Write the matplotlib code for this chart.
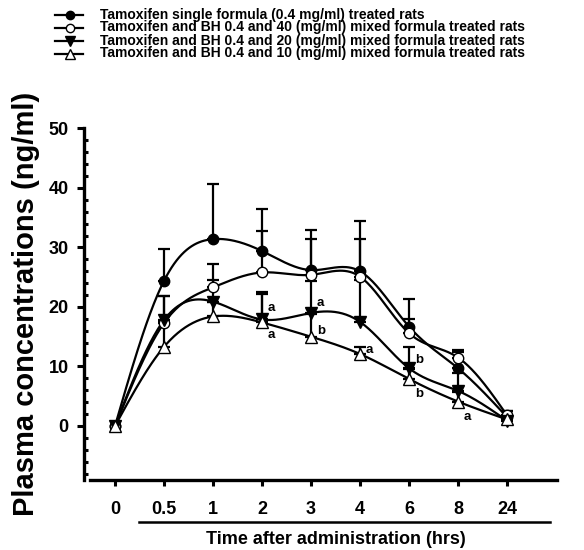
import numpy as np
import matplotlib.pyplot as plt
import matplotlib.transforms as mtransforms
from matplotlib.lines import Line2D
from matplotlib.ticker import FixedLocator

plt.rcParams['font.family'] = ['Liberation Sans', 'DejaVu Sans']
plt.rcParams['font.weight'] = 'bold'

# sampling times (shown as evenly spaced categories)
times = ['0', '0.5', '1', '2', '3', '4', '6', '8', '24']

# mean plasma concentration (ng/ml) and upper SD for each group
single = [0, 24.4, 31.4, 29.4, 26.2, 26.0, 16.7, 9.7, 1.5]
single_sd = [0, 5.3, 9.2, 7.0, 6.8, 8.4, 4.6, 2.8, 1.0]
bh40 = [0, 17.3, 23.3, 25.8, 25.4, 25.1, 15.6, 11.5, 1.8]
bh40_sd = [0, 4.5, 4.0, 6.9, 6.0, 6.3, 2.4, 1.3, 0.7]
bh20 = [0, 17.8, 20.9, 17.9, 19.0, 17.5, 9.7, 5.9, 0.9]
bh20_sd = [0, 4.1, 3.6, 4.7, 5.4, 7.0, 3.5, 3.0, 0.8]
bh10 = [0, 13.3, 18.4, 17.4, 15.0, 12.1, 7.9, 4.1, 1.1]
bh10_sd = [0, 4.3, 2.4, 4.8, 3.8, 1.2, 1.6, 1.6, 0.6]

labels = ['Tamoxifen single formula (0.4 mg/ml) treated rats',
          'Tamoxifen and BH 0.4 and 40 (mg/ml) mixed formula treated rats',
          'Tamoxifen and BH 0.4 and 20 (mg/ml) mixed formula treated rats',
          'Tamoxifen and BH 0.4 and 10 (mg/ml) mixed formula treated rats']

# significance letters: (series index, time index, letter, offset in points)
sig = [(2, 3, 'a', 8), (3, 3, 'a', -9), (2, 4, 'a', 7), (3, 4, 'b', 4),
       (3, 5, 'a', 3), (2, 6, 'b', 6), (3, 6, 'b', -11), (3, 7, 'a', -11)]


def smooth(x, y, n=40):
    # natural cubic spline through the points
    x = np.asarray(x, float)
    y = np.asarray(y, float)
    m = len(x)
    h = np.diff(x)
    A = np.zeros((m, m))
    b = np.zeros(m)
    A[0, 0] = A[-1, -1] = 1
    for i in range(1, m - 1):
        A[i, i - 1] = h[i - 1]
        A[i, i] = 2 * (h[i - 1] + h[i])
        A[i, i + 1] = h[i]
        b[i] = 6 * ((y[i + 1] - y[i]) / h[i] - (y[i] - y[i - 1]) / h[i - 1])
    M = np.linalg.solve(A, b)
    xs, ys = [], []
    for i in range(m - 1):
        t = np.linspace(x[i], x[i + 1], n)
        a = x[i + 1] - t
        c = t - x[i]
        s = ((M[i] * a**3 + M[i + 1] * c**3) / (6 * h[i])
             + (y[i] / h[i] - M[i] * h[i] / 6) * a
             + (y[i + 1] / h[i] - M[i + 1] * h[i] / 6) * c)
        xs.append(t)
        ys.append(s)
    return np.concatenate(xs), np.concatenate(ys)


means = [single, bh40, bh20, bh10]
sds = [single_sd, bh40_sd, bh20_sd, bh10_sd]
markers = [('o', 'black', 7.5), ('o', 'white', 7.5), ('v', 'black', 8.5), ('^', 'white', 8.5)]

fig = plt.figure(figsize=(5.84, 5.50), dpi=100)
ax = fig.add_axes([84 / 584, 1 - 480 / 550, 473 / 584, 352 / 550])

x = np.arange(len(times))
for k, (y, sd) in enumerate(zip(means, sds)):
    mk, fc, ms = markers[k]
    xs, ys = smooth(x, y)
    ax.plot(xs, ys, color='black', lw=1.6, zorder=2 + k * 0.1, clip_on=False)
    ax.errorbar(x[1:], y[1:], yerr=[np.zeros(len(x) - 1), sd[1:]], fmt='none',
                ecolor='black', elinewidth=1.6, capsize=4.3, capthick=1.6,
                zorder=3 + k * 0.1, clip_on=False)
    ax.plot(x, y, linestyle='none', marker=mk, mfc=fc, mec='black', mew=1.0,
            ms=ms, zorder=4 + k * 0.1, clip_on=False)

for k, i, letter, dy in sig:
    ax.annotate(letter, (x[i], means[k][i]), xytext=(7, dy), textcoords='offset points',
                fontsize=9.5, fontweight='bold', ha='center', va='center')

ax.set_xlim(-0.633, 9.02)
ax.set_ylim(-9.08, 50.08)
ax.spines['top'].set_visible(False)
ax.spines['right'].set_visible(False)
ax.spines['left'].set_linewidth(2.4)
ax.spines['bottom'].set_linewidth(2.4)
ax.spines['left'].set_bounds(-9.08, 50)
ax.spines['bottom'].set_bounds(-0.51, 9.02)

ax.set_xticks(x)
ax.set_xticklabels(times)
ax.yaxis.set_major_locator(FixedLocator([0, 10, 20, 30, 40, 50]))
ax.yaxis.set_minor_locator(FixedLocator([v for v in range(-8, 50, 2) if v % 10 != 0]))
ax.tick_params(axis='x', length=4, width=2.2, pad=11, labelsize=13)
ax.tick_params(axis='y', which='major', length=5, width=2.2, pad=6, labelsize=13)
ax.tick_params(axis='y', which='minor', direction='in', length=3, width=2.2)
for t in ax.get_xticklabels() + ax.get_yticklabels():
    t.set_fontweight('bold')

ax.set_ylabel('Plasma concentrations (ng/ml)', fontsize=21, fontweight='bold')
ax.yaxis.set_label_coords(-0.093, 0.5)

# grouping line under the tick labels and the axis title
tr = mtransforms.blended_transform_factory(ax.transData, fig.transFigure)
ax.add_line(Line2D([0.49, 8.88], [1 - 522 / 550] * 2, transform=tr, color='black',
                   lw=1.8, clip_on=False))
ax.text(4.51, 1 - 540 / 550, 'Time after administration (hrs)', transform=tr,
        fontsize=13, fontweight='bold', ha='center', va='center')

# legend at the top
for k, lab in enumerate(labels):
    yy = 1 - (14.5 + 13 * k) / 550
    mk, fc, ms = markers[k]
    fig.add_artist(Line2D([55 / 584, 83 / 584], [yy, yy], color='black', lw=1.6))
    fig.add_artist(Line2D([70 / 584], [yy], marker=mk, mfc=fc, mec='black', mew=1.0,
                          ms=ms * 0.8, linestyle='none'))
    fig.text(100 / 584, yy, lab, fontsize=10, fontweight='bold', va='center', ha='left')

fig.savefig('out.png', dpi=100)
